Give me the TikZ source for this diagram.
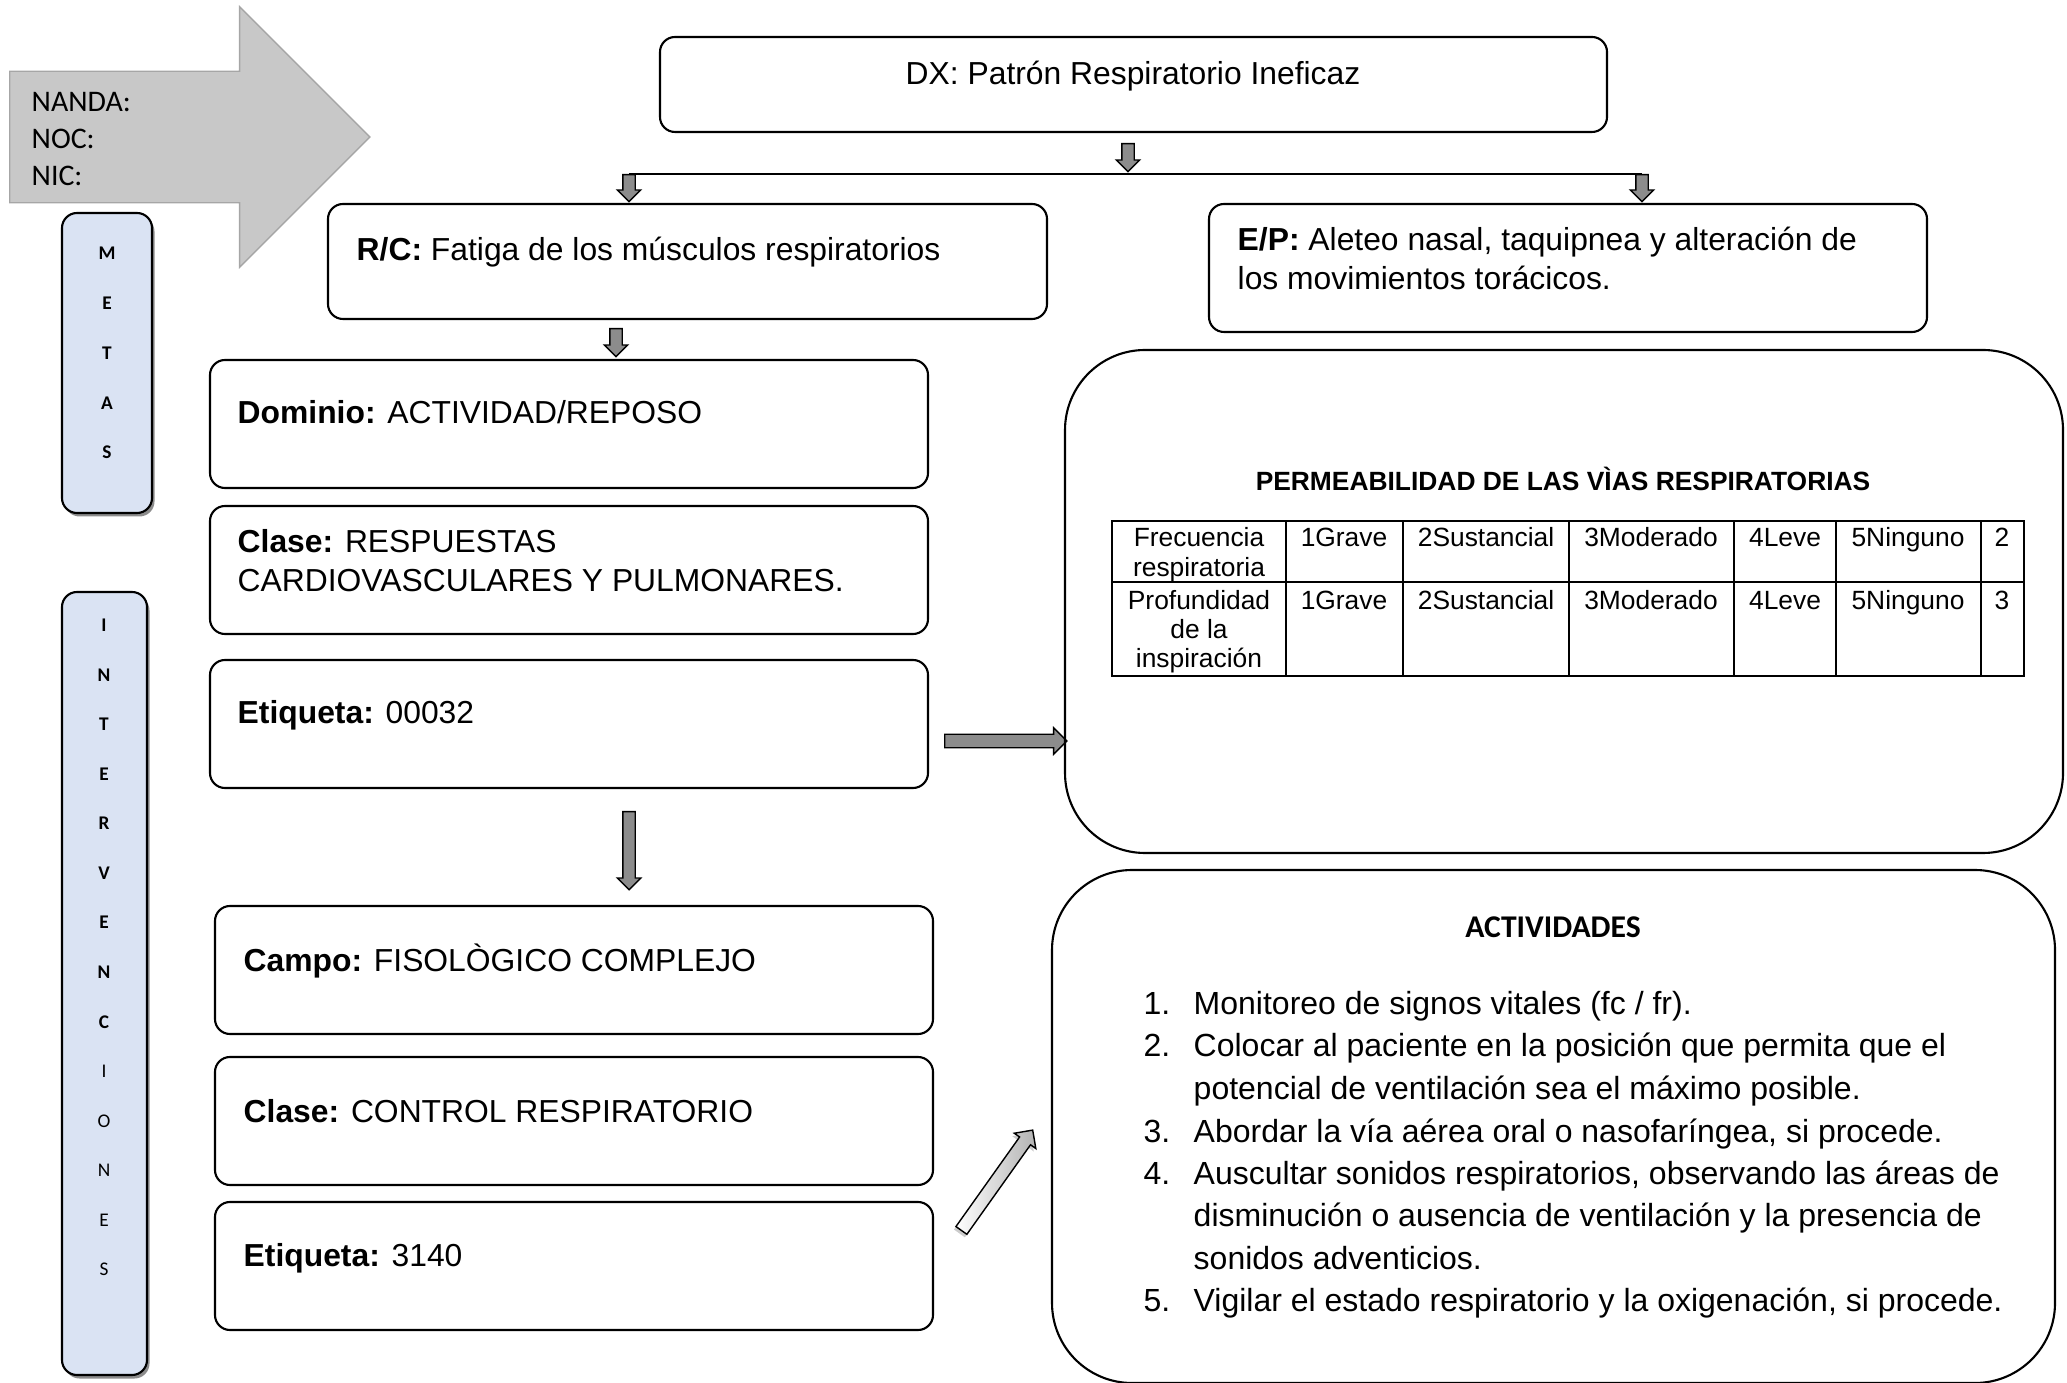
\documentclass[tikz,border=0pt]{standalone}
\usepackage{fontspec}
\setmainfont{Liberation Sans}
\newfontfamily\carlito{Carlito}
\usetikzlibrary{shapes.arrows,shadows,fit}
\definecolor{azulmeta}{RGB}{218,227,243}
\definecolor{grisflecha}{RGB}{200,200,200}
\definecolor{grisbloque}{RGB}{140,140,140}
\tikzset{
	caja/.style={draw,line width=0.6pt,rounded corners=0.15cm,inner sep=0pt},
	cajagrande/.style={draw,line width=0.6pt,rounded corners=0.8cm,inner sep=0pt},
	texto/.style={inner sep=0pt,anchor=base west,font=\fontsize{9.05}{11}\selectfont},
	celda/.style={inner sep=0pt,anchor=base,font=\fontsize{7.5}{9}\selectfont},
	letra/.style={inner sep=0pt,anchor=base,font=\carlito\fontsize{5.5}{6}\selectfont},
	bloque/.style={single arrow,draw,line width=0.4pt,fill=grisbloque,minimum width=0pt,anchor=tail,
		inner xsep=0pt,inner ysep=0.055cm,single arrow head extend=0.055cm,single arrow tip angle=90},
	barra/.style={draw,line width=0.6pt,rounded corners=0.15cm,fill=azulmeta,inner sep=0pt,
		drop shadow={shadow xshift=0.025cm,shadow yshift=-0.035cm,fill=black!45,opacity=1}},
}
\begin{document}
\begin{tikzpicture}[x=0.01cm,y=-0.01cm]
\useasboundingbox (0,0) rectangle (2067,1383);
% flecha NANDA / NOC / NIC
\node[single arrow,draw=gray!70,fill=grisflecha,minimum height=3.6cm,minimum width=0pt,anchor=tail,
	inner xsep=0pt,inner ysep=0.65cm,single arrow head extend=0.645cm,single arrow tip angle=90] (nnn) at (9,137) {};
\node[inner sep=0pt,anchor=base west,font=\carlito\fontsize{8.5}{9}\selectfont] (nanda) at (31,112) {NANDA:};
\node[inner sep=0pt,anchor=base west,font=\carlito\fontsize{8.5}{9}\selectfont] (noc) at (31,149) {NOC:};
\node[inner sep=0pt,anchor=base west,font=\carlito\fontsize{8.5}{9}\selectfont] (nic) at (31,186) {NIC:};
% barras laterales
\node[barra,fit={(62,213) (152,513)}] (metas) {};
\foreach \l [count=\k] in {M,E,T,A,S}
	\node[letra] (m\k) at (107,{260+(\k-1)*49.7}) {\bfseries\l};
\node[barra,fit={(62,592) (147,1375)}] (interv) {};
\foreach \l/\b [count=\k] in {I/1,N/1,T/1,E/1,R/1,V/1,E/1,N/1,C/1,I/0,O/0,N/0,E/0,S/0}
	\node[letra] (i\k) at (104,{632+(\k-1)*49.5}) {\ifnum\b=1\bfseries\fi\l};
% diagnostico
\node[caja,fit={(660,37) (1607,132)}] (dx) {};
\node[texto,anchor=base] (dxt) at (1133,85) {DX: Patrón Respiratorio Ineficaz};
\node[bloque,rotate=-90,minimum height=0.28cm] (fc) at (1128,143) {};
\node[bloque,rotate=-90,minimum height=0.27cm] (fl) at (629,174) {};
\node[bloque,rotate=-90,minimum height=0.27cm] (fr) at (1642,174) {};
\draw (fl.tail) -- (fr.tail);
\node[caja,fit={(328,204) (1047,319)}] (rc) {};
\node[texto] (rct) at (356,261) {\textbf{R/C:} Fatiga de los músculos respiratorios};
\node[caja,fit={(1209,204) (1927,332)}] (ep) {};
\node[texto] (ept) at (1237,251) {\textbf{E/P:} Aleteo nasal, taquipnea y alteración de};
\node[texto] (ept2) at (1237,290) {los movimientos torácicos.};
\node[bloque,rotate=-90,minimum height=0.28cm] (frc) at (616,328) {};
% NOC
\node[caja,fit={(210,360) (928,488)}] (dom) {};
\node[texto] (domt) at (237,424) {\textbf{Dominio:} ACTIVIDAD/REPOSO};
\node[caja,fit={(210,506) (928,634)}] (cla) {};
\node[texto] (clat) at (237,553) {\textbf{Clase:} RESPUESTAS};
\node[texto] (clat2) at (237,592) {CARDIOVASCULARES Y PULMONARES.};
\node[caja,fit={(210,660) (928,788)}] (eti) {};
\node[texto] (etit) at (237,724) {\textbf{Etiqueta:} 00032};
\node[bloque,minimum height=1.22cm,inner ysep=0.06cm,single arrow head extend=0.065cm] (feti) at (944,741) {};
\node[bloque,rotate=-90,minimum height=0.78cm] (fbaja) at (629,811) {};
% NIC
\node[caja,fit={(215,906) (933,1034)}] (cam) {};
\node[texto] (camt) at (243,971) {\textbf{Campo:} FISOLÒGICO COMPLEJO};
\node[caja,fit={(215,1057) (933,1185)}] (cla2) {};
\node[texto] (cla2t) at (243,1122) {\textbf{Clase:} CONTROL RESPIRATORIO};
\node[caja,fit={(215,1202) (933,1330)}] (eti2) {};
\node[texto] (eti2t) at (243,1266) {\textbf{Etiqueta:} 3140};
\node[bloque,minimum height=1.23cm,inner ysep=0.06cm,single arrow head extend=0.065cm,rotate=54.6,
	left color=white,right color=black!30,drop shadow={shadow xshift=-0.02cm,shadow yshift=-0.03cm,fill=black!40}] (fdiag) at (961,1231) {};
% permeabilidad
\node[cajagrande,fit={(1065,350) (2063,853)}] (perm) {};
\node[inner sep=0pt,anchor=base,font=\bfseries\fontsize{7.5}{9}\selectfont] (permt) at (1563,491) {PERMEABILIDAD DE LAS VÌAS RESPIRATORIAS};
\node[draw,line width=0.6pt,inner sep=0pt,fit={(1112,521) (2024,676)}] (tabla) {};
\draw[line width=0.6pt] (1112,582) -- (2024,582);
\foreach \x in {1286,1403,1569,1734,1836,1981}
	\draw[line width=0.6pt] (\x,521) -- (\x,676);
\foreach \t/\y [count=\k] in {Frecuencia/547,respiratoria/577,Profundidad/610,de la/639,inspiración/668}
	\node[celda] (ind\k) at (1199,\y) {\t};
\foreach \t/\x [count=\k] in {1Grave/1344,2Sustancial/1486,3Moderado/1651,4Leve/1785,5Ninguno/1908} {
	\node[celda] (a\k) at (\x,547) {\t};
	\node[celda] (b\k) at (\x,610) {\t};
}
\node[celda] (a6) at (2002,547) {2};
\node[celda] (b6) at (2002,610) {3};
% actividades
\node[cajagrande,fit={(1052,870) (2055,1383)}] (act) {};
\node[inner sep=0pt,anchor=base,font=\carlito\bfseries\fontsize{9}{10}\selectfont] (actt) at (1553,937) {ACTIVIDADES};
\foreach \n/\y in {1/1014,2/1056,3/1142,4/1184,5/1311}
	\node[texto,anchor=base east,font=\fontsize{9.1}{11}\selectfont] (n\n) at (1171,\y) {\n.};
\node[texto,font=\fontsize{9.1}{11}\selectfont] (l1) at (1193,1014) {Monitoreo de signos vitales (fc / fr).};
\node[texto,font=\fontsize{9.1}{11}\selectfont] (l2) at (1193,1056) {Colocar al paciente en la posición que permita que el};
\node[texto,font=\fontsize{9.1}{11}\selectfont] (l3) at (1193,1099) {potencial de ventilación sea el máximo posible.};
\node[texto,font=\fontsize{9.1}{11}\selectfont] (l4) at (1193,1142) {Abordar la vía aérea oral o nasofaríngea, si procede.};
\node[texto,font=\fontsize{9.1}{11}\selectfont] (l5) at (1193,1184) {Auscultar sonidos respiratorios, observando las áreas de};
\node[texto,font=\fontsize{9.1}{11}\selectfont] (l6) at (1193,1226) {disminución o ausencia de ventilación y la presencia de};
\node[texto,font=\fontsize{9.1}{11}\selectfont] (l7) at (1193,1269) {sonidos adventicios.};
\node[texto,font=\fontsize{9.1}{11}\selectfont] (l8) at (1193,1311) {Vigilar el estado respiratorio y la oxigenación, si procede.};
\end{tikzpicture}
\end{document}
